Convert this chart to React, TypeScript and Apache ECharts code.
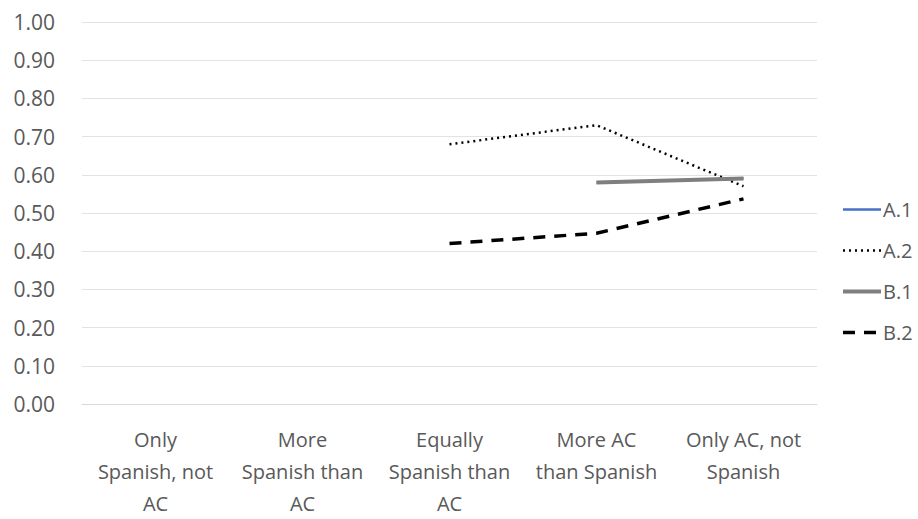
import React, { useEffect, useRef } from "react";
import * as echarts from "echarts";

const categories = [
  "Only\nSpanish, not\nAC",
  "More\nSpanish than\nAC",
  "Equally\nSpanish than\nAC",
  "More AC\nthan Spanish",
  "Only AC, not\nSpanish",
];
const seriesA1: (number | null)[] = [null, null, null, 0.58, 0.59];
const seriesA2: (number | null)[] = [null, null, 0.68, 0.73, 0.57];
const seriesB1: (number | null)[] = [null, null, null, 0.58, 0.59];
const seriesB2: (number | null)[] = [null, null, 0.42, 0.447, 0.537];
const yTicks = { min: 0, max: 1, interval: 0.1 };

const FONT = "'Open Sans', 'Liberation Sans', sans-serif";

export default function App() {
  const ref = useRef<HTMLDivElement>(null);
  useEffect(() => {
    if (!ref.current) return;
    const chart = echarts.init(ref.current, undefined, { renderer: "svg" });
    chart.setOption({
      animation: false,
      backgroundColor: "#ffffff",
      grid: { left: 82, right: 101, top: 22, bottom: 112 },
      legend: {
        orient: "vertical",
        left: 836,
        top: 194,
        itemWidth: 38,
        itemHeight: 14,
        itemGap: 20,
        itemStyle: { opacity: 0, borderWidth: 0 },
        textStyle: {
          color: "#595959",
          fontSize: 20,
          lineHeight: 21,
          fontFamily: FONT,
          padding: [0, 0, 0, -3],
        },
        data: [
          { name: "A.1", lineStyle: { width: 2.5, color: "#4472c4" } },
          { name: "A.2", lineStyle: { width: 2.5, color: "#000000", type: [2, 4] } },
          { name: "B.1", lineStyle: { width: 4, color: "#7f7f7f" } },
          { name: "B.2", lineStyle: { width: 3.5, color: "#000000", type: [12, 9] } },
        ],
      },
      xAxis: {
        type: "category",
        data: categories,
        boundaryGap: true,
        axisLine: { lineStyle: { color: "#d9d9d9" } },
        axisTick: { show: false },
        axisLabel: {
          interval: 0,
          color: "#595959",
          fontSize: 20,
          fontFamily: FONT,
          lineHeight: 32,
          margin: 19,
        },
      },
      yAxis: {
        type: "value",
        min: yTicks.min,
        max: yTicks.max,
        interval: yTicks.interval,
        axisLine: { show: false },
        axisTick: { show: false },
        splitLine: { lineStyle: { color: "#e2e2e2" } },
        axisLabel: {
          color: "#595959",
          fontSize: 21,
          fontFamily: FONT,
          margin: 27,
          formatter: (v: number) => v.toFixed(2),
        },
      },
      series: [
        {
          name: "A.1",
          type: "line",
          data: seriesA1,
          symbol: "none",
          color: "#4472c4",
          lineStyle: { color: "#4472c4", width: 2.5 },
        },
        {
          name: "A.2",
          type: "line",
          data: seriesA2,
          symbol: "none",
          color: "#000000",
          lineStyle: { color: "#000000", width: 2.5, type: [2, 4] },
        },
        {
          name: "B.1",
          type: "line",
          data: seriesB1,
          symbol: "none",
          color: "#7f7f7f",
          lineStyle: { color: "#7f7f7f", width: 4 },
        },
        {
          name: "B.2",
          type: "line",
          data: seriesB2,
          symbol: "none",
          color: "#000000",
          lineStyle: { color: "#000000", width: 3.5, type: [12, 9] },
        },
      ],
    });
    return () => chart.dispose();
  }, []);
  return (
    <div
      ref={ref}
      style={{ position: "absolute", left: 0, top: 0, width: 918, height: 519 }}
    />
  );
}
